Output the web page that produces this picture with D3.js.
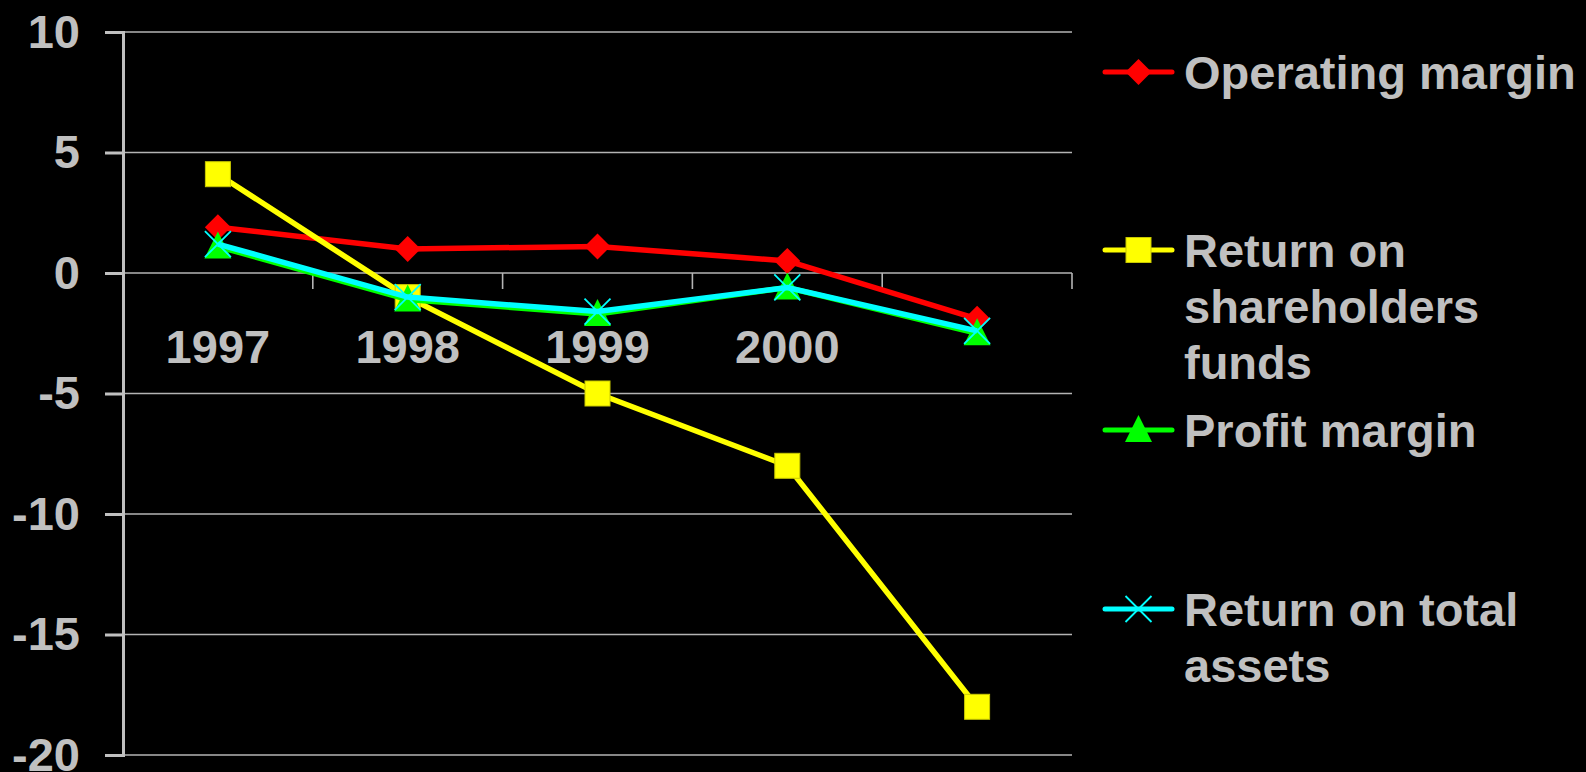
<!DOCTYPE html>
<html>
<head>
<meta charset="utf-8">
<script src="https://cdn.jsdelivr.net/npm/d3@7"></script>
<style>
  html, body { margin: 0; padding: 0; background: #000; }
  svg { display: block; }
  text { font-family: "Liberation Sans", Arial, sans-serif; font-weight: bold; fill: #c0c0c0; }
</style>
</head>
<body>
<svg id="chart" width="1586" height="772"></svg>
<script>
// categories (last one has no label on the chart)
const categories = ["1997", "1998", "1999", "2000", ""];
const yTicks = [10, 5, 0, -5, -10, -15, -20];

const seriesNames = ["Operating margin", "Return on shareholders funds", "Profit margin", "Return on total assets"];
const legendLines = [["Operating margin"], ["Return on", "shareholders", "funds"], ["Profit margin"], ["Return on total", "assets"]];

const operatingMargin = [1.9, 1.0, 1.1, 0.5, -1.9];
const returnOnFunds = [4.1, -1.0, -5.0, -8.0, -18.0];
const profitMargin = [1.1, -1.1, -1.7, -0.6, -2.5];
const returnOnAssets = [1.2, -1.0, -1.6, -0.6, -2.4];

const seriesValues = [operatingMargin, returnOnFunds, profitMargin, returnOnAssets];
const seriesColors = ["#ff0000", "#ffff00", "#00ff00", "#00ffff"];
const seriesMarkers = ["diamond", "square", "triangle", "cross"];

const svg = d3.select("#chart");
const plotLeft = 123, plotRight = 1072, plotTop = 32, plotBottom = 755;

const x = d3.scaleBand().domain(categories.map((c, i) => i)).range([plotLeft, plotRight]).padding(0);
const y = d3.scaleLinear().domain([-20, 10]).range([plotBottom, plotTop]);
const cx = (i) => x(i) + x.bandwidth() / 2;

// gridlines
svg.append("g")
  .selectAll("line")
  .data(yTicks)
  .join("line")
  .attr("x1", plotLeft).attr("x2", plotRight)
  .attr("y1", (d) => y(d)).attr("y2", (d) => y(d))
  .attr("stroke", "#b4b4b4")
  .attr("stroke-width", 1.6);

// category ticks hanging from the zero line
svg.append("g")
  .selectAll("line")
  .data(categories.map((c, i) => i))
  .join("line")
  .attr("x1", (i) => x(i) + x.bandwidth()).attr("x2", (i) => x(i) + x.bandwidth())
  .attr("y1", y(0)).attr("y2", y(0) + 16)
  .attr("stroke", "#b4b4b4")
  .attr("stroke-width", 1.6);

// x labels
const xAxis = svg.append("g")
  .attr("transform", `translate(0,${y(0)})`)
  .call(d3.axisBottom(x).tickSize(0).tickPadding(57).tickFormat((i) => categories[i]));
xAxis.select(".domain").remove();
xAxis.selectAll("text").attr("fill", "#c0c0c0").style("font-size", "47px");

// y axis
const yAxis = svg.append("g")
  .attr("transform", `translate(${plotLeft},0)`)
  .call(d3.axisLeft(y).tickValues(yTicks).tickSize(18).tickPadding(25).tickFormat((d) => String(d)));
yAxis.select(".domain").attr("stroke", "#c0c0c0").attr("stroke-width", 3);
yAxis.selectAll(".tick line").attr("stroke", "#c0c0c0").attr("stroke-width", 3);
yAxis.selectAll("text").attr("fill", "#c0c0c0").style("font-size", "47px");

function drawMarker(g, type, color, px, py) {
  const s = 13;
  if (type === "diamond") {
    g.append("path").attr("d", `M${px},${py - s}L${px + s},${py}L${px},${py + s}L${px - s},${py}Z`).attr("fill", color);
  } else if (type === "square") {
    g.append("rect").attr("x", px - 12.5).attr("y", py - 12.5).attr("width", 25).attr("height", 25)
      .attr("fill", color).attr("stroke", "#c8c800").attr("stroke-width", 1);
  } else if (type === "triangle") {
    g.append("path").attr("d", `M${px},${py - 15}L${px + 13.5},${py + 12}L${px - 13.5},${py + 12}Z`).attr("fill", color);
  } else {
    g.append("path").attr("d", `M${px - 13},${py - 13}L${px + 13},${py + 13}M${px - 13},${py + 13}L${px + 13},${py - 13}`)
      .attr("stroke", color).attr("stroke-width", 1.8);
  }
}

const line = d3.line().x((d, i) => cx(i)).y((d) => y(d));

seriesValues.forEach((vals, k) => {
  const g = svg.append("g");
  g.append("path").datum(vals).attr("d", line)
    .attr("fill", "none").attr("stroke", seriesColors[k]).attr("stroke-width", 5.5);
  vals.forEach((v, i) => drawMarker(g, seriesMarkers[k], seriesColors[k], cx(i), y(v)));
});

// legend
const legendY = [72, 250, 430, 609];
const legend = svg.append("g");
seriesNames.forEach((name, k) => {
  const g = legend.append("g");
  g.append("line").attr("x1", 1105).attr("x2", 1172).attr("y1", legendY[k]).attr("y2", legendY[k])
    .attr("stroke", seriesColors[k]).attr("stroke-width", 5).attr("stroke-linecap", "round");
  drawMarker(g, seriesMarkers[k], seriesColors[k], 1138.5, legendY[k]);
  const t = g.append("text").attr("x", 1184).attr("y", legendY[k] + 17).style("font-size", "47px");
  legendLines[k].forEach((ln, j) => {
    t.append("tspan").attr("x", 1184).attr("dy", j === 0 ? 0 : 56).text(ln);
  });
});
</script>
</body>
</html>
